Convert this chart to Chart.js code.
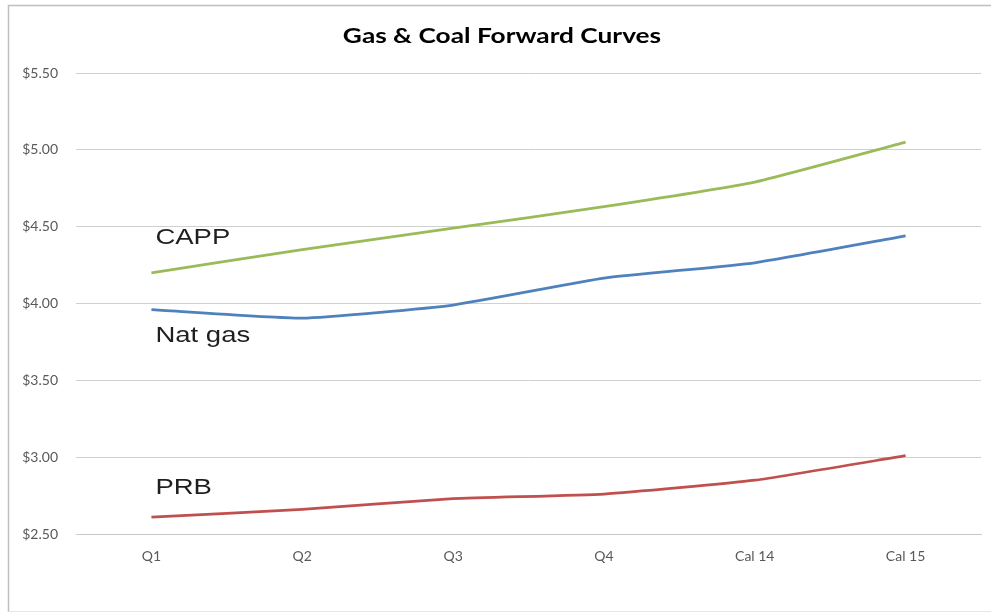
<!DOCTYPE html>
<html>
<head>
<meta charset="utf-8">
<script src="https://cdn.jsdelivr.net/npm/chart.js@4/dist/chart.umd.min.js"></script>
<style>
  html, body { margin: 0; padding: 0; background: #ffffff; }
  #wrap { position: relative; width: 991px; height: 612px; }
</style>
</head>
<body>
<div id="wrap"><canvas id="chart" width="991" height="612"></canvas></div>
<script>
// Forward periods
const periods = ["Q1", "Q2", "Q3", "Q4", "Cal 14", "Cal 15"];

// Forward prices, $ per unit
const cappPrices   = [4.20, 4.35, 4.49, 4.63, 4.79, 5.05];
const natGasPrices = [3.96, 3.905, 3.99, 4.165, 4.265, 4.44];
const prbPrices    = [2.61, 2.66, 2.73, 2.76, 2.85, 3.01];

// Series names written beside the curves, with the price level each sits at
const seriesNames  = ["CAPP", "Nat gas", "PRB"];
const nameLevels   = [4.427, 3.79, 2.80];

const chartTitle = "Gas & Coal Forward Curves";

// Text drawn slightly widened, in the style of the original spreadsheet chart
function wideText(ctx, text, x, y, align, stretch) {
  ctx.save();
  ctx.translate(x, y);
  ctx.scale(stretch, 1);
  ctx.textAlign = align;
  ctx.fillText(text, 0, 0);
  ctx.restore();
}

// Thin frame around the whole chart, plus the title
const framePlugin = {
  id: "frame",
  afterDraw(chart) {
    const ctx = chart.ctx;
    ctx.save();
    ctx.strokeStyle = "#bfbfbf";
    ctx.lineWidth = 1.5;
    ctx.beginPath();
    ctx.moveTo(8.5, 612);
    ctx.lineTo(8.5, 5.5);
    ctx.lineTo(991, 5.5);
    ctx.stroke();
    ctx.strokeStyle = "#e6e6e6";
    ctx.lineWidth = 1;
    ctx.beginPath();
    ctx.moveTo(8.5, 611.5);
    ctx.lineTo(991, 611.5);
    ctx.stroke();

    ctx.font = "bold 21px Lato, 'Open Sans', sans-serif";
    ctx.fillStyle = "#000000";
    ctx.textBaseline = "middle";
    wideText(ctx, chartTitle, 502, 36, "center", 1.25);
    ctx.restore();
  }
};

// Series names placed at the first period
const namePlugin = {
  id: "seriesNames",
  afterDatasetsDraw(chart) {
    const ctx = chart.ctx;
    const xs = chart.scales.x;
    const ys = chart.scales.y;
    const x0 = xs.getPixelForValue(0) + 4;
    ctx.save();
    ctx.font = "22px 'Liberation Sans', Arial, sans-serif";
    ctx.fillStyle = "#1f1f1f";
    ctx.textBaseline = "middle";
    seriesNames.forEach((name, i) => {
      wideText(ctx, name, x0, ys.getPixelForValue(nameLevels[i]), "left", 1.25);
    });
    ctx.restore();
  }
};

const tickFont = { family: "Lato, 'Open Sans', sans-serif", size: 14 };

new Chart(document.getElementById("chart"), {
  type: "line",
  data: {
    labels: periods,
    datasets: [
      { label: seriesNames[0], data: cappPrices,   borderColor: "#9bbb59" },
      { label: seriesNames[1], data: natGasPrices, borderColor: "#4f81bd" },
      { label: seriesNames[2], data: prbPrices,    borderColor: "#c0504d" }
    ].map(d => Object.assign(d, {
      borderWidth: 2.75,
      pointRadius: 0,
      tension: 0.15,
      fill: false
    }))
  },
  options: {
    responsive: false,
    animation: false,
    devicePixelRatio: 1,
    layout: { padding: { left: 8, right: 10, top: 73, bottom: 0 } },
    plugins: {
      legend: { display: false },
      tooltip: { enabled: false },
      title: { display: false }
    },
    scales: {
      x: {
        offset: true,
        grid: { display: false, drawTicks: false },
        border: { display: true, color: "#c8c8c8", width: 1 },
        ticks: { color: "#595959", font: tickFont, padding: 14, maxRotation: 0 },
        afterFit(scale) { scale.height = 78; }
      },
      y: {
        min: 2.5,
        max: 5.5,
        grid: { color: "#d0d0d0", lineWidth: 1, drawTicks: false },
        border: { display: false },
        ticks: {
          stepSize: 0.5,
          color: "#595959",
          font: tickFont,
          padding: 18,
          callback: v => "$" + Number(v).toFixed(2)
        },
        afterFit(scale) { scale.width = 68; }
      }
    }
  },
  plugins: [framePlugin, namePlugin]
});
</script>
</body>
</html>
